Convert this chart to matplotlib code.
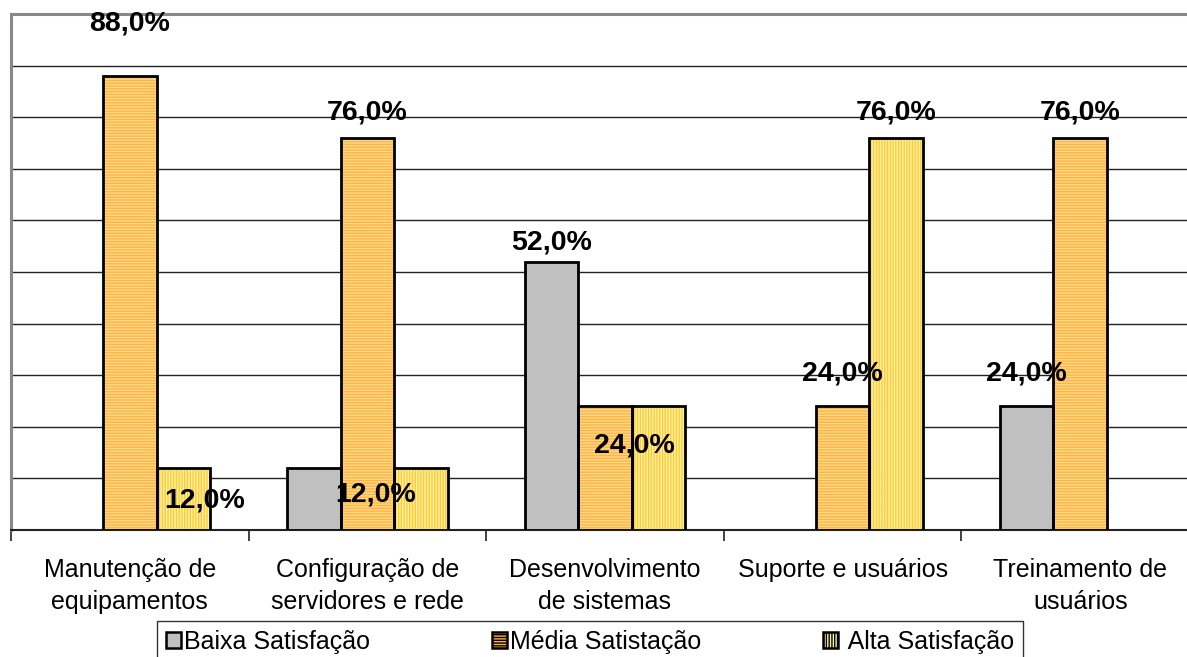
import numpy as np
import matplotlib
matplotlib.use("Agg")
import matplotlib.pyplot as plt
from matplotlib.patches import Rectangle

categories = [
    "Manutenção de\nequipamentos",
    "Configuração de\nservidores e rede",
    "Desenvolvimento\nde sistemas",
    "Suporte e usuários",
    "Treinamento de\nusuários",
]
series_names = ["Baixa Satisfação", "Média Satistação", " Alta Satisfação"]
baixa = [0, 12, 52, 0, 24]
media = [88, 76, 24, 24, 76]
alta = [12, 12, 24, 76, 0]

# (category, series, x shift, y shift from the value) for the value labels
value_labels = [
    (0, 1, 0.0, 10.1), (0, 2, 0.09, -6.2),
    (1, 1, 0.0, 5.0), (1, 2, -0.19, -5.2),
    (2, 0, 0.0, 3.8), (2, 2, -0.10, -7.6),
    (3, 1, 0.0, 6.4), (3, 2, 0.0, 5.0),
    (4, 0, 0.0, 6.4), (4, 1, 0.0, 5.0),
]

plt.rcParams["font.family"] = ["Liberation Sans", "DejaVu Sans"]
plt.rcParams["hatch.linewidth"] = 1.0

faces = ["#C0C0C0", "#FFB443", "#FFF3A0"]
hatch_colors = [None, "#FFD98A", "#FFC93C"]
hatches = [None, "-" * 6, "|" * 6]

fig = plt.figure(figsize=(11.87, 6.57), dpi=100)
ax = fig.add_axes([11 / 1187, 1 - 530 / 657, 1188 / 1187, 516 / 657])

x = np.arange(len(categories))
width = 0.225
data = [baixa, media, alta]
offsets = [-width, 0, width]

for i, vals in enumerate(data):
    vals = np.array(vals)
    keep = vals > 0
    pos = (x + offsets[i])[keep]
    h = vals[keep]
    if hatches[i]:
        ax.bar(pos, h, width, color=faces[i], edgecolor=hatch_colors[i],
               hatch=hatches[i], linewidth=0, zorder=3)
    else:
        ax.bar(pos, h, width, color=faces[i], linewidth=0, zorder=3)
    ax.bar(pos, h, width, fill=False, edgecolor="black", linewidth=2.0, zorder=4)

for cat, s, dx, dy in value_labels:
    v = data[s][cat]
    ax.text(cat + offsets[s] + dx, v + dy, f"{v:.1f}".replace(".", ",") + "%",
            ha="center", va="center", fontsize=20.5, fontweight="bold", zorder=6)

ax.set_xlim(-0.5, 4.5)
ax.set_ylim(0, 100)
ax.set_yticks(np.arange(10, 100, 10))
ax.yaxis.grid(True, color="#222222", linewidth=1.0, zorder=0)
ax.tick_params(axis="y", length=0, labelleft=False)

ax.set_xticks(x)
ax.set_xticklabels(categories, fontsize=18, linespacing=1.38)
ax.set_xticks(np.arange(-0.5, 4.6, 1), minor=True)
ax.tick_params(axis="x", which="major", length=0, pad=20.5)
ax.tick_params(axis="x", which="minor", length=8, width=1.2, color="#222222")

for side in ["top", "left"]:
    ax.spines[side].set_color("#888888")
    ax.spines[side].set_linewidth(2.2)
ax.spines["bottom"].set_color("#222222")
ax.spines["bottom"].set_linewidth(1.5)
ax.spines["right"].set_visible(False)

handles = []
for i in range(3):
    handles.append(Rectangle((0, 0), 1, 1, facecolor=faces[i], edgecolor="black",
                             linewidth=1.8, hatch=hatches[i]))
leg = fig.legend(handles, series_names, loc="upper left",
                 bbox_to_anchor=(157 / 1187, 1 - 621 / 657), ncol=3,
                 fontsize=18, frameon=True, fancybox=False, edgecolor="black",
                 handlelength=0.6, handleheight=0.6, handletextpad=0.15,
                 columnspacing=4.85, borderpad=0.35, borderaxespad=0)
leg.get_frame().set_linewidth(1.0)

fig.savefig("out.png", dpi=100)
